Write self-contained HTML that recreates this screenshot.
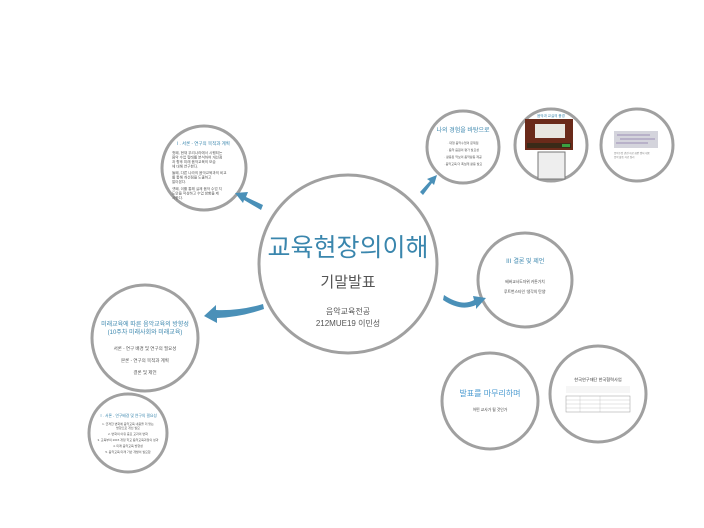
<!DOCTYPE html>
<html><head><meta charset="utf-8"><style>
html,body{margin:0;padding:0;background:#fff;}
svg{display:block;}
text{font-family:"Liberation Sans","Noto Sans CJK KR",sans-serif;}
</style></head><body>
<svg width="704" height="528" viewBox="0 0 704 528" xmlns="http://www.w3.org/2000/svg">
<g fill="#fff" stroke="#a0a0a0" stroke-width="3">
<circle cx="348" cy="264" r="89"/>
<circle cx="204" cy="168" r="42"/>
<circle cx="145" cy="338" r="53"/>
<circle cx="128" cy="433" r="39"/>
<circle cx="463" cy="147" r="36"/>
<circle cx="551" cy="145" r="36"/>
<circle cx="637" cy="145" r="36"/>
<circle cx="525" cy="280" r="47"/>
<circle cx="490" cy="401" r="48"/>
<circle cx="598" cy="394" r="48"/>
</g>
<text x="348" y="256" text-anchor="middle" font-size="25" fill="#3a86ad">교육현장의이해</text>
<text x="348" y="287" text-anchor="middle" font-size="15" fill="#555">기말발표</text>
<text x="348" y="314" text-anchor="middle" font-size="8" fill="#555">음악교육전공</text>
<text x="348" y="326" text-anchor="middle" font-size="8" fill="#555">212MUE19 이민성</text>
<g fill="#4a90b8" stroke="none">
<path d="M263 205 L246 197 L248 192 L235 193 L243 203 L244 200 L261 210 Z"/>
<path d="M420 192 L430 181 L427 179 L437 175 L434 185 L432 183 L423 195 Z"/>
<path d="M444 295 Q462 307 474 300 L473 296 L486 298 L476 309 L476 305 Q461 312 443 300 Z"/>
<path d="M263 304 Q240 311 216 310 L216 305 L204 316 L217 323 L217 318 Q241 317 264 309 Z"/>
</g>
<text x="175" y="145" font-size="4.5" fill="#3a86ad">Ⅰ. 서론 - 연구의 목적과 계획</text>
<g font-size="3.6" fill="#555">
<text x="172" y="154">첫째, 현재 우리나라에서 시행되는</text>
<text x="172" y="158.5">음악 수업 형태를 분석하여 개선점</text>
<text x="172" y="163">과 향후 미래 음악교육의 모습</text>
<text x="172" y="167.5">에 대해 연구한다.</text>
<text x="172" y="174">둘째, 다른 나라의 음악교육과의 비교</text>
<text x="172" y="178.5">를 통해 개선점을 도출하고</text>
<text x="172" y="183">알아본다.</text>
<text x="172" y="190">셋째, 이를 통해 실제 음악 수업 지</text>
<text x="172" y="194.5">도안을 작성하고 수업 방향을 제</text>
<text x="172" y="199">시한다.</text>
</g>
<text x="145" y="326" text-anchor="middle" font-size="6" fill="#3a86ad">미래교육에 따른 음악교육의 방향성</text>
<text x="145" y="334" text-anchor="middle" font-size="6" fill="#3a86ad">(10주차 미래사회와 미래교육)</text>
<g font-size="4.5" fill="#555" text-anchor="middle">
<text x="145" y="350">서론 - 연구 배경 및 연구의 필요성</text>
<text x="145" y="362">본론 - 연구의 목적과 계획</text>
<text x="145" y="374">결론 및 제언</text>
</g>
<text x="128" y="417" text-anchor="middle" font-size="3.8" fill="#3a86ad">Ⅰ. 서론 - 연구배경 및 연구의 필요성</text>
<g font-size="3" fill="#555" text-anchor="middle">
<text x="128" y="425">1. 급격한 변화에 음악교육 내용을 더 맞는</text>
<text x="128" y="429">방향으로 개선 필요</text>
<text x="128" y="435">2. 변화의 이유 중요 교과의 변화</text>
<text x="128" y="441">3. 교육부의 2015 개정 학교 음악교육과정의 성과</text>
<text x="128" y="447">4. 미래 음악교육 방향성</text>
<text x="128" y="453">5. 음악교육 미래 기반 개발이 필요함</text>
</g>
<text x="463" y="132" text-anchor="middle" font-size="6" fill="#3a86ad">나의 경험을 바탕으로</text>
<g font-size="3" fill="#555" text-anchor="middle">
<text x="463" y="144">· 대형 음악수업의 문제점</text>
<text x="463" y="151">· 음악 음원의 평가 필요성</text>
<text x="463" y="158">· 활용된 악보의 음악활동 제공</text>
<text x="463" y="165">· 음악교육 더 폭넓게 활용 필요</text>
</g>
<text x="551" y="117" text-anchor="middle" font-size="3.5" fill="#3a86ad">음악과 교실의 풍경</text>
<rect x="525" y="119" width="48" height="31" fill="#6a2a1a"/>
<rect x="535" y="124" width="30" height="14" fill="#e8e6e0"/>
<rect x="527" y="143" width="44" height="5" fill="#3a2a18"/>
<rect x="562" y="144" width="8" height="3" fill="#3aa040"/>
<rect x="538" y="152" width="27" height="27" fill="#eee" stroke="#777" stroke-width="1"/>
<rect x="614" y="131" width="44" height="17" fill="#d4d4dc"/>
<g stroke="#8877aa" stroke-width="0.8"><line x1="617" y1="135" x2="650" y2="135"/><line x1="620" y1="139" x2="655" y2="139"/><line x1="616" y1="143" x2="648" y2="143"/></g>
<text x="614" y="154" font-size="2.5" fill="#777">음악수업 관련 자료 화면 캡처 내용</text>
<text x="614" y="158" font-size="2.5" fill="#777">음악 활동 자료 정리</text>
<text x="525" y="263" text-anchor="middle" font-size="6" fill="#3a86ad">Ⅲ 결론 및 제언</text>
<text x="525" y="283" text-anchor="middle" font-size="3.8" fill="#444">베버교사도자위 카툰가치</text>
<text x="525" y="293" text-anchor="middle" font-size="3.8" fill="#444">루트번스타인 '생각의 탄생'</text>
<text x="490" y="396" text-anchor="middle" font-size="8" fill="#4a9ad0">발표를 마무리하며</text>
<text x="490" y="411" text-anchor="middle" font-size="3.8" fill="#444">어떤 교사가 될 것인가</text>
<text x="598" y="381" text-anchor="middle" font-size="4.2" fill="#333">한국연구재단 한국협력사업</text>
<rect x="566" y="386" width="64" height="7" fill="#f6f6f6"/>
<rect x="566" y="396" width="64" height="16" fill="#fff" stroke="#999" stroke-width="0.5"/>
<g stroke="#bbb" stroke-width="0.4"><line x1="566" y1="400" x2="630" y2="400"/><line x1="566" y1="404" x2="630" y2="404"/><line x1="566" y1="408" x2="630" y2="408"/><line x1="580" y1="396" x2="580" y2="412"/><line x1="600" y1="396" x2="600" y2="412"/></g>
</svg>
</body></html>
